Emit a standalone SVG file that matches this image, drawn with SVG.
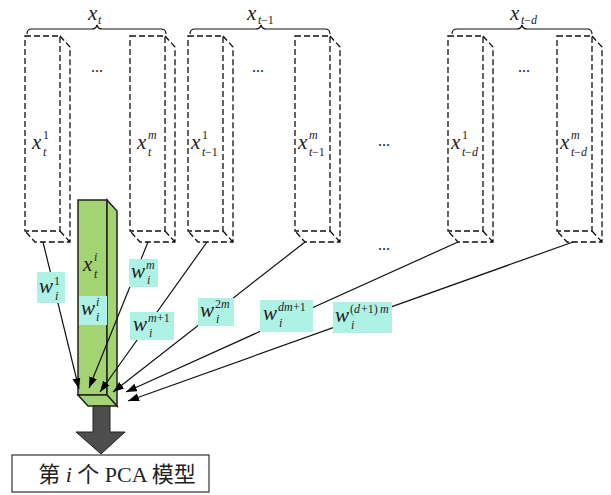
<svg xmlns="http://www.w3.org/2000/svg" width="611" height="495" viewBox="0 0 611 495">
<style>
.d{fill:none;stroke:#111;stroke-width:1.3;stroke-dasharray:6,3}
.br{fill:none;stroke:#111;stroke-width:1.2}
.m{font-family:"Liberation Serif",serif;font-style:italic;font-size:21px;fill:#222}
.s{font-family:"Liberation Serif",serif;font-size:12px;fill:#222}
.si{font-family:"Liberation Serif",serif;font-style:italic;font-size:12px;fill:#222}
.dots{font-family:"Liberation Serif",serif;font-size:16px;fill:#222}
.lb{fill:#aef2e5}
.c{stroke:#111;stroke-width:1.2;fill:none;marker-end:url(#ah)}
</style>
<defs>
<marker id="ah" markerUnits="userSpaceOnUse" markerWidth="12" markerHeight="9" refX="11" refY="4" orient="auto">
<path d="M0,0 L11,4 L0,8 z" fill="#000"/>
</marker>
<g id="box">
<rect x="0" y="0" width="35" height="195" class="d"/>
<path d="M35,0 L45,11 L45,206 L10,206 L0,195 M35,195 L45,206" class="d"/>
</g>
</defs>

<g id="group-xt">
<path class="br" d="M27,34 Q27,29 32,29 L92,29 Q96,29 97,25 Q98,29 102,29 L161,29 Q166,29 166,34"/>
<text class="m" x="88" y="20">x</text><text class="si" x="98" y="24">t</text>
<text class="dots" x="91" y="72">...</text>
</g>
<g id="node-xt1" transform="translate(25,36)"><use href="#box"/>
<text class="m" x="7" y="113">x</text><text class="s" x="18" y="103">1</text><text class="si" x="18" y="120">t</text></g>
<g id="node-xtm" transform="translate(130,36)"><use href="#box"/>
<text class="m" x="7" y="113">x</text><text class="si" x="18" y="103">m</text><text class="si" x="18" y="120">t</text></g>

<g id="group-xt-1">
<path class="br" d="M190,34 Q190,29 195,29 L256,29 Q260,29 261,25 Q262,29 266,29 L325,29 Q330,29 330,34"/>
<text class="m" x="247" y="20">x</text><text class="si" x="258" y="24">t</text><text class="s" x="261" y="24">−1</text>
<text class="dots" x="252" y="72">...</text>
</g>
<g id="node-xt-1-1" transform="translate(188,36)"><use href="#box"/>
<text class="m" x="3" y="113">x</text><text class="s" x="14" y="103">1</text><text class="si" x="14" y="120">t</text><text class="s" x="17" y="120">−1</text></g>
<g id="node-xt-1-m" transform="translate(295,36)"><use href="#box"/>
<text class="m" x="3" y="113">x</text><text class="si" x="14" y="103">m</text><text class="si" x="14" y="120">t</text><text class="s" x="17" y="120">−1</text></g>

<text class="dots" x="378" y="146">...</text>
<text class="dots" x="378" y="250">...</text>

<g id="group-xt-d">
<path class="br" d="M452,34 Q452,29 457,29 L517,29 Q521,29 522,25 Q523,29 527,29 L587,29 Q592,29 592,34"/>
<text class="m" x="510" y="20">x</text><text class="si" x="521" y="24">t</text><text class="s" x="524" y="24">−</text><text class="si" x="531" y="24">d</text>
<text class="dots" x="518" y="72">...</text>
</g>
<g id="node-xt-d-1" transform="translate(448,36)"><use href="#box"/>
<text class="m" x="3" y="113">x</text><text class="s" x="14" y="103">1</text><text class="si" x="14" y="120">t</text><text class="s" x="17" y="120">−</text><text class="si" x="24" y="120">d</text></g>
<g id="node-xt-d-m" transform="translate(557,36)"><use href="#box"/>
<text class="m" x="3" y="113">x</text><text class="si" x="14" y="103">m</text><text class="si" x="14" y="120">t</text><text class="s" x="17" y="120">−</text><text class="si" x="24" y="120">d</text></g>

<g id="node-xti">
<rect x="78" y="200" width="29" height="195" fill="#a3d373" stroke="#222" stroke-width="1.5"/>
<polygon points="107,200 117,211 117,406 107,395" fill="#a3d373" stroke="#222" stroke-width="1.5"/>
<polygon points="78,395 107,395 117,406 88,406" fill="#a3d373" stroke="#222" stroke-width="1.5"/>
<text class="m" x="83" y="271">x</text><text class="si" x="94" y="261">i</text><text class="si" x="94" y="278">t</text>
</g>

<g id="connectors">
<line class="c" x1="43" y1="242" x2="79" y2="389"/>
<line class="c" x1="148" y1="242" x2="89" y2="388"/>
<line class="c" x1="207" y1="242" x2="100" y2="392"/>
<line class="c" x1="305" y1="242" x2="113" y2="392"/>
<line class="c" x1="458" y1="242" x2="126" y2="392"/>
<line class="c" x1="573" y1="242" x2="128" y2="401"/>
</g>

<g id="labels">
<g id="lbl-w1"><rect class="lb" x="37" y="272" width="28" height="31"/>
<text class="m" x="39" y="293">w</text><text class="s" x="54" y="285">1</text><text class="si" x="55" y="300">i</text></g>
<g id="lbl-wi"><rect class="lb" x="79" y="296" width="28" height="29"/>
<text class="m" x="81" y="315">w</text><text class="si" x="96" y="306">i</text><text class="si" x="96" y="321">i</text></g>
<g id="lbl-wm"><rect class="lb" x="129" y="259" width="29" height="28"/>
<text class="m" x="131" y="278">w</text><text class="si" x="146" y="269">m</text><text class="si" x="147" y="284">i</text></g>
<g id="lbl-wm1"><rect class="lb" x="130" y="312" width="44" height="28"/>
<text class="m" x="133" y="331">w</text><text class="si" x="148" y="322">m</text><text class="s" x="157" y="322">+1</text><text class="si" x="149" y="337">i</text></g>
<g id="lbl-w2m"><rect class="lb" x="198" y="298" width="36" height="28"/>
<text class="m" x="200" y="317">w</text><text class="s" x="215" y="308">2</text><text class="si" x="221" y="308">m</text><text class="si" x="216" y="323">i</text></g>
<g id="lbl-wdm1"><rect class="lb" x="260" y="300" width="53" height="32"/>
<text class="m" x="263" y="320">w</text><text class="si" x="278" y="311">dm</text><text class="s" x="293" y="311">+1</text><text class="si" x="279" y="327">i</text></g>
<g id="lbl-wd1m"><rect class="lb" x="333" y="302" width="59" height="31"/>
<text class="m" x="335" y="322">w</text><text class="s" x="350" y="313">(</text><text class="si" x="354" y="313">d</text><text class="s" x="361" y="313">+1)</text><text class="si" x="380" y="313">m</text><text class="si" x="351" y="329">i</text></g>
</g>

<g id="output-arrow">
<polygon points="93,406 110,406 110,432 125,432 101,454 76,432 93,432" fill="#4d4d4d" stroke="#222" stroke-width="1"/>
</g>

<g id="node-pca">
<rect x="12" y="455" width="197" height="37" fill="#fff" stroke="#333" stroke-width="1.2"/>
<text x="117" y="482" text-anchor="middle" font-family="'Liberation Serif','Noto Sans CJK SC',serif" font-size="22" fill="#222">第 <tspan font-style="italic">i</tspan> 个 PCA 模型</text>
</g>
</svg>
